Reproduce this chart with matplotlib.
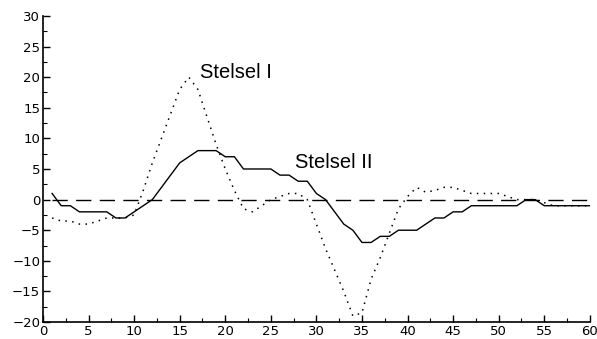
import matplotlib
matplotlib.use("Agg")
import matplotlib.pyplot as plt
import numpy as np
from matplotlib.ticker import MultipleLocator

# time steps
x = list(range(1, 61))

# Stelsel I (dotted)
stelsel_1 = [-3, -3.5, -3.5, -4, -4, -3.5, -3, -3, -3, -2.5,
             1.5, 6, 10, 14, 18, 20, 18, 13.5, 9, 5,
             1.5, -1.5, -2, -1, 0, 0.5, 1, 1, 0, -4,
             -8, -11.5, -15, -19, -18.5, -13, -9.5, -5.5, -1.5, 0.5,
             2, 1.2, 1.5, 2, 2, 1.5, 1, 1, 1, 1,
             0.5, 0, 0, 0, -0.5, -1, -1, -1, -1, -1]

# Stelsel II (solid)
stelsel_2 = [1, -1, -1, -2, -2, -2, -2, -3, -3, -2,
             -1, 0, 2, 4, 6, 7, 8, 8, 8, 7,
             7, 5, 5, 5, 5, 4, 4, 3, 3, 1,
             0, -2, -4, -5, -7, -7, -6, -6, -5, -5,
             -5, -4, -3, -3, -2, -2, -1, -1, -1, -1,
             -1, -1, 0, 0, -1, -1, -1, -1, -1, -1]

reference = [0] * 60

fig = plt.figure(figsize=(5.97, 3.39), dpi=100)
ax = fig.add_axes([0.072, 0.050, 0.916, 0.903])

ax.plot(x, reference, color='black', lw=1.0, dashes=(11, 6))
ax.plot(x, stelsel_1, color='black', lw=1.1, linestyle=(0, (1, 3.5)))
ax.plot(x, stelsel_2, color='black', lw=1.0)

ax.text(17.2, 19.9, 'Stelsel I', fontsize=14.5, family='Liberation Sans', va='baseline')
ax.text(27.7, 5.2, 'Stelsel II', fontsize=14.5, family='Liberation Sans', va='baseline')

ax.set_xlim(0, 60)
ax.set_ylim(-20, 30)
ax.xaxis.set_major_locator(MultipleLocator(5))
ax.yaxis.set_major_locator(MultipleLocator(5))
ax.xaxis.set_minor_locator(MultipleLocator(2.5))
ax.yaxis.set_minor_locator(MultipleLocator(2.5))

for side in ['top', 'right']:
    ax.spines[side].set_visible(False)
for side in ['left', 'bottom']:
    ax.spines[side].set_linewidth(1.2)

ax.tick_params(which='major', direction='in', length=5, width=1, labelsize=9.5, pad=2)
ax.tick_params(which='minor', direction='in', length=3, width=0.8)

fig.savefig('out.png', dpi=100)
